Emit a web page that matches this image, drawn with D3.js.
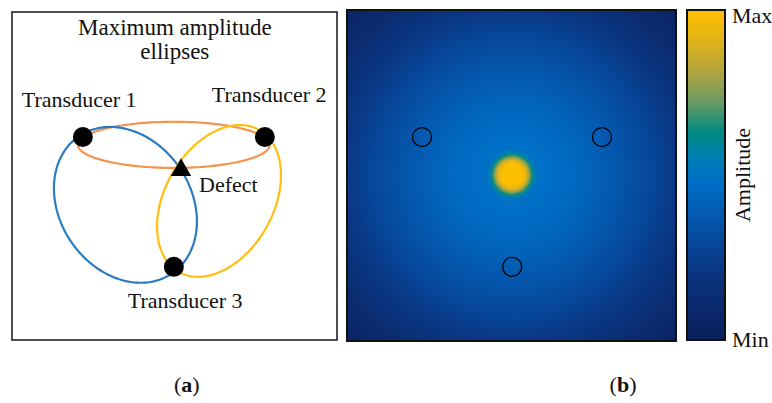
<!DOCTYPE html>
<html><head><meta charset="utf-8">
<script src="https://cdn.jsdelivr.net/npm/d3@7"></script>
<style>
html,body{margin:0;padding:0;background:#fff;}
svg{display:block;}
text{font-family:"Liberation Serif","DejaVu Serif",serif;fill:#111;}
</style></head>
<body>
<svg id="chart" width="772" height="403"></svg>
<script>
// ---------- DATA ----------
// Panel (a): positions in a 0..100 plate coordinate system
const transducerNames = ["Transducer 1", "Transducer 2", "Transducer 3"];
const transducerX = [21.8, 77.8, 49.8];
const transducerY = [38.1, 38.1, 77.7];
const defectName = "Defect";
const defectX = 52.0;
const defectY = 48.2;
// maximum amplitude ellipses (centre, semi-axes, rotation in degrees)
const ellipseNames = ["T1-T2", "T1-T3", "T2-T3"];
const ellipseCX = [49.8, 34.9, 63.7];
const ellipseCY = [40.5, 58.8, 57.6];
const ellipseA = [29.5, 25.5, 25.1];
const ellipseB = [7.1, 20.2, 16.7];
const ellipseRot = [0, 56, -60.6];
const ellipseColors = ["#f5944c", "#2a7bc0", "#ffbe12"];
const titleLines = ["Maximum amplitude", "ellipses"];

// Panel (b): sensor locations and radial amplitude profile around the defect
const sensorX = [22.8, 77.5, 50.2];
const sensorY = [38.4, 38.4, 77.6];
const spotX = 50.2, spotY = 49.8;
const profileR   = [0, 3.0, 4.3, 5.2, 6.1, 7.0, 8.2, 18.2, 30.4, 42.6, 50.2, 60.8, 71.4];
const profileAmp = [1, 0.99, 0.92, 0.78, 0.64, 0.53, 0.48, 0.45, 0.38, 0.29, 0.22, 0.12, 0.04];

// colour map (amplitude 0 = Min, 1 = Max)
const cmapT = [0, 0.2, 0.35, 0.48, 0.56, 0.63, 0.72, 0.8, 0.9, 1];
const cmapColors = ["#0a1f5c", "#0b3480", "#0552a8", "#0070c8", "#0080b0", "#008a80", "#6a9a64", "#a8a444", "#dcb21a", "#ffc000"];
const colorbarLabels = ["Min", "Max"];
const colorbarTitle = "Amplitude";
const panelLabels = ["a", "b"];

// ---------- DRAW ----------
const svg = d3.select("#chart");
const defs = svg.append("defs");
const color = d3.scaleLinear().domain(cmapT).range(cmapColors).interpolate(d3.interpolateRgb);

// Panel (a)
const xa = d3.scaleLinear().domain([0, 100]).range([12, 337]);
const ya = d3.scaleLinear().domain([0, 100]).range([12, 340]);
const ga = svg.append("g");
ga.append("rect").attr("x", xa(0)).attr("y", ya(0))
  .attr("width", xa(100) - xa(0)).attr("height", ya(100) - ya(0))
  .attr("fill", "#fff").attr("stroke", "#222").attr("stroke-width", 1.6);

ga.selectAll("text.title").data(titleLines).join("text").attr("class", "title")
  .attr("x", xa(50.1)).attr("y", (d, i) => 35 + i * 24)
  .attr("text-anchor", "middle").attr("font-size", 23).text(d => d);

const ellLine = d3.line().x(d => xa(d[0])).y(d => ya(d[1])).curve(d3.curveLinearClosed);
const ellData = ellipseNames.map((n, i) => {
  const th = ellipseRot[i] * Math.PI / 180, pts = [];
  for (let k = 0; k < 180; k++) {
    const t = k / 180 * 2 * Math.PI;
    const u = ellipseA[i] * Math.cos(t), v = ellipseB[i] * Math.sin(t);
    pts.push([ellipseCX[i] + u * Math.cos(th) - v * Math.sin(th),
              ellipseCY[i] + (u * Math.sin(th) + v * Math.cos(th)) * (xa(1) - xa(0)) / (ya(1) - ya(0))]);
  }
  return {n, pts, c: ellipseColors[i]};
});
ga.selectAll("path.ell").data(ellData).join("path").attr("class", "ell")
  .attr("d", d => ellLine(d.pts)).attr("fill", "none")
  .attr("stroke", d => d.c).attr("stroke-width", 2.2);

ga.selectAll("circle.tr").data(transducerNames).join("circle").attr("class", "tr")
  .attr("cx", (d, i) => xa(transducerX[i])).attr("cy", (d, i) => ya(transducerY[i]))
  .attr("r", 10).attr("fill", "#000");

ga.append("path").attr("d", d3.symbol().type(d3.symbolTriangle).size(180)())
  .attr("transform", `translate(${xa(defectX)},${ya(defectY)})`).attr("fill", "#000");

const trLabelDx = [-61, -53, -46];
const trLabelDy = [-30, -35, 41];
ga.selectAll("text.trl").data(transducerNames).join("text").attr("class", "trl")
  .attr("x", (d, i) => xa(transducerX[i]) + trLabelDx[i])
  .attr("y", (d, i) => ya(transducerY[i]) + trLabelDy[i])
  .attr("font-size", 22).text(d => d);
ga.append("text").attr("x", xa(defectX) + 18).attr("y", ya(defectY) + 22)
  .attr("font-size", 22).text(defectName);

// Panel (b)
const xb = d3.scaleLinear().domain([0, 100]).range([347, 676]);
const yb = d3.scaleLinear().domain([0, 100]).range([10, 341]);
const rmax = profileR[profileR.length - 1];
const rg = defs.append("radialGradient").attr("id", "heat")
  .attr("gradientUnits", "userSpaceOnUse")
  .attr("cx", xb(spotX)).attr("cy", yb(spotY)).attr("r", xb(rmax) - xb(0));
rg.selectAll("stop").data(profileR).join("stop")
  .attr("offset", d => d / rmax)
  .attr("stop-color", (d, i) => color(profileAmp[i]));
const gb = svg.append("g");
gb.append("rect").attr("x", xb(0)).attr("y", yb(0))
  .attr("width", xb(100) - xb(0)).attr("height", yb(100) - yb(0))
  .attr("fill", "url(#heat)").attr("stroke", "#111").attr("stroke-width", 2);
gb.selectAll("circle.s").data(sensorX).join("circle").attr("class", "s")
  .attr("cx", (d, i) => xb(d)).attr("cy", (d, i) => yb(sensorY[i]))
  .attr("r", 9.5).attr("fill", "none").attr("stroke", "#000").attr("stroke-width", 1.3);

// Colour bar
const yc = d3.scaleLinear().domain([0, 1]).range([340, 10]);
const lg = defs.append("linearGradient").attr("id", "cbar")
  .attr("x1", 0).attr("x2", 0).attr("y1", 1).attr("y2", 0);
lg.selectAll("stop").data(cmapT).join("stop")
  .attr("offset", d => d).attr("stop-color", d => color(d));
svg.append("rect").attr("x", 687).attr("y", yc(1)).attr("width", 38)
  .attr("height", yc(0) - yc(1)).attr("fill", "url(#cbar)")
  .attr("stroke", "#111").attr("stroke-width", 2);
svg.selectAll("text.cbl").data(colorbarLabels).join("text").attr("class", "cbl")
  .attr("x", 732).attr("y", (d, i) => i === 0 ? yc(0) + 7 : yc(1) + 13)
  .attr("font-size", 22).text(d => d);
svg.append("text").attr("transform", `translate(750,${yc(0.5)}) rotate(-90)`)
  .attr("text-anchor", "middle").attr("font-size", 22).text(colorbarTitle);

// Panel labels
const panelCX = [xa(53.8), (xb(0) + 725) / 2 + 87];
svg.selectAll("text.pl").data(panelLabels).join("text").attr("class", "pl")
  .attr("x", (d, i) => panelCX[i]).attr("y", 392).attr("text-anchor", "middle")
  .attr("font-size", 22)
  .each(function (d) {
    const t = d3.select(this);
    t.append("tspan").text("(");
    t.append("tspan").attr("font-weight", "bold").text(d);
    t.append("tspan").text(")");
  });
</script>
</body></html>
